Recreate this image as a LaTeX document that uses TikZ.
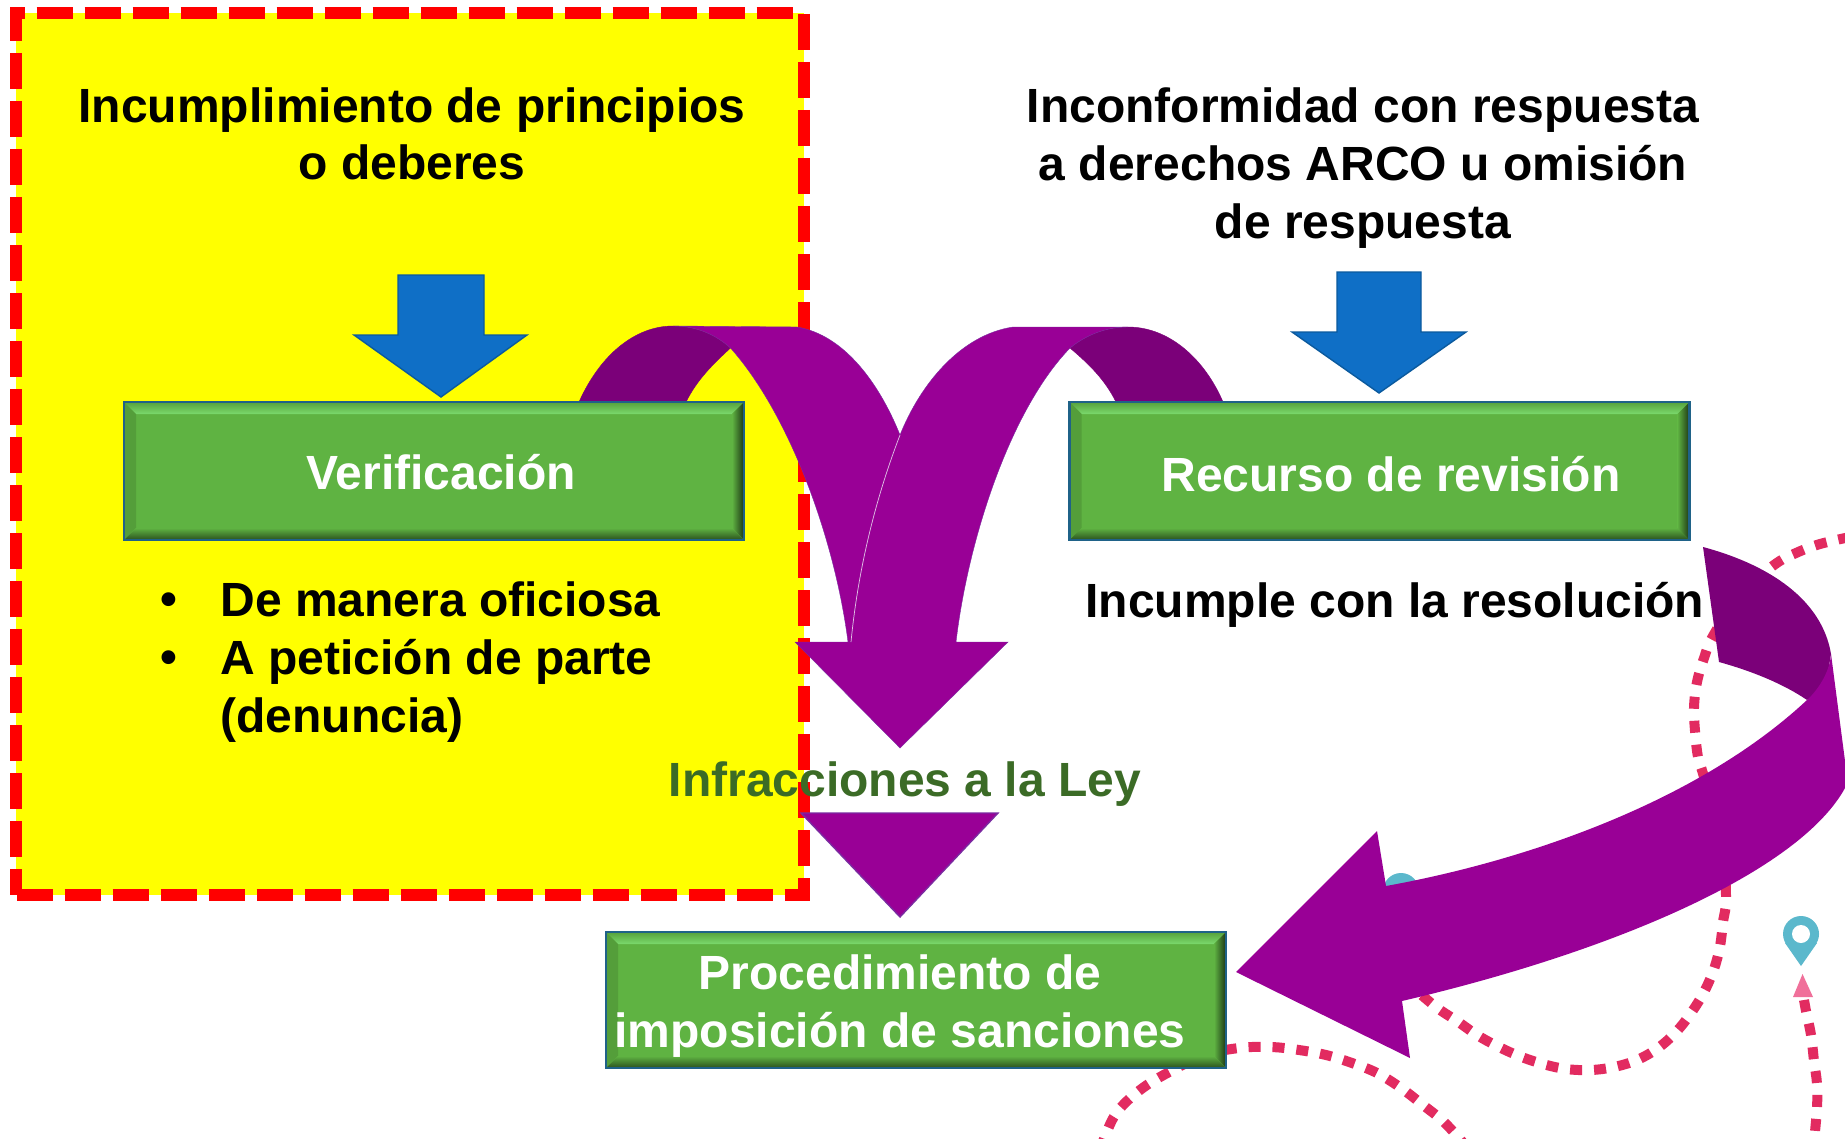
\documentclass[tikz,border=0pt]{standalone}
\usepackage{fontspec}
\setmainfont{Liberation Sans}
\definecolor{panelyellow}{HTML}{FFFF00}
\definecolor{panelred}{HTML}{FF0000}
\definecolor{purfront}{HTML}{990096}
\definecolor{purdark}{HTML}{7B0079}
\definecolor{purline}{HTML}{7A2BA0}
\definecolor{boxgreen}{HTML}{5FB342}
\definecolor{boxline}{HTML}{1F6288}
\definecolor{arrowblue}{HTML}{0F6FC6}
\definecolor{arrowline}{HTML}{0B5A9E}
\definecolor{lawgreen}{HTML}{3B6B26}
\definecolor{roadpink}{HTML}{E22B60}
\definecolor{pinteal}{HTML}{5BB8CC}
\definecolor{pinpink}{HTML}{F0709A}
\tikzset{
  bigtext/.style={font=\fontsize{24}{28.8}\selectfont\bfseries, align=center, inner sep=0pt},
  greenbox/.style={draw=boxline, line width=1.4pt, fill=boxgreen, inner sep=0pt, outer sep=0pt,
    text=white, font=\fontsize{24}{28.8}\selectfont\bfseries, align=center,
    path picture={
      \coordinate (bl) at (path picture bounding box.south west);
      \coordinate (tr) at (path picture bounding box.north east);
      \coordinate (tl) at (path picture bounding box.north west);
      \coordinate (br) at (path picture bounding box.south east);
      \fill[top color=boxgreen!90!black, bottom color=boxgreen!70!green!70!white]
        (tl) -- (tr) -- ([shift={(-6pt,-6pt)}]tr) -- ([shift={(6pt,-6pt)}]tl) -- cycle;
      \fill[color=boxgreen!88!black] (tl) -- ([shift={(6pt,-6pt)}]tl) -- ([shift={(6pt,6pt)}]bl) -- (bl) -- cycle;
      \fill[top color=boxgreen, bottom color=boxgreen!45!black] (bl) -- ([shift={(6pt,6pt)}]bl) -- ([shift={(-6pt,6pt)}]br) -- (br) -- cycle;
      \fill[left color=boxgreen, right color=boxgreen!30!black] (tr) -- ([shift={(-6pt,-6pt)}]tr) -- ([shift={(-6pt,6pt)}]br) -- (br) -- cycle;
    }},
  bluearrow/.style={fill=arrowblue, draw=arrowline, line width=0.7pt, line join=miter},
  frontarrow/.style={fill=purfront, draw=purline, line width=0.2pt},
  backarrow/.style={fill=purdark, draw=purdark, line width=0.2pt},
  roaddash/.style={draw=roadpink, line width=5pt, dash pattern=on 6pt off 6pt},
  redborder/.style={draw=panelred, line width=6pt}
}
\begin{document}
\begin{tikzpicture}[x=0.5pt,y=-0.5pt]
\clip (0,0) rectangle (1845,1139);
\fill[white] (0,0) rectangle (1845,1139);

% background road lines and pins
\draw[roaddash] plot[smooth,tension=0.6] coordinates {(1850,537) (1820,544) (1796,553) (1774,565) (1740,595) (1713,636) (1704,658) (1697,682) (1694,707) (1695,731) (1698,757) (1704,777) (1722,840) (1726,897) (1723,922) (1720,946) (1714,969) (1704,992) (1691,1013) (1676,1032) (1658,1048) (1637,1060) (1614,1067) (1591,1070) (1566,1069) (1543,1064) (1519,1056) (1497,1046) (1477,1035) (1457,1021) (1436,1007) (1410,985)};
\draw[roaddash] plot[smooth,tension=0.6] coordinates {(1100,1150) (1115,1115) (1140,1090) (1171,1071) (1205,1055) (1239,1048) (1271,1047) (1299,1050) (1326,1055) (1352,1063) (1377,1073) (1401,1088) (1423,1105) (1444,1122) (1465,1145)};
\draw[roaddash] plot[smooth,tension=0.6] coordinates {(1804,1000) (1806,1011) (1811,1035) (1814,1061) (1817,1084) (1817,1108) (1815,1132) (1814,1150)};
\fill[pinpink] (1802.5,974) -- (1813,997) -- (1793,997) -- cycle;
\fill[pinteal] (1801,934) circle[radius=18];
\fill[pinteal] (1801,966) -- (1785,943) -- (1817,943) -- cycle;
\fill[white] (1801,934) circle[radius=9];
\fill[pinteal] (1401,891) circle[radius=18];

% yellow panel with dashed red border
\fill[panelyellow] (16,13) rectangle (804,894.5);
\draw[redborder, dash pattern=on 18pt off 6pt, dash phase=10.75pt] (10,13) -- (804,13);
\draw[redborder, dash pattern=on 18pt off 6pt, dash phase=1pt] (16,7) -- (16,895);
\draw[redborder, dash pattern=on 18pt off 6pt] (16.5,894.5) -- (810,894.5);
\draw[redborder, dash pattern=on 18pt off 6pt] (804,14) -- (804,900);

% blue arrows
\draw[bluearrow] (398,275) -- (484,275) -- (484,335) -- (527,335) -- (441,397) -- (354,335) -- (398,335) -- cycle;
\draw[bluearrow] (1337,272) -- (1421,272) -- (1421,332) -- (1466,332) -- (1379,393) -- (1292,332) -- (1337,332) -- cycle;

% curved arrows between the boxes
\draw[backarrow] (579,402) .. controls (600,355) and (635,326) .. (673,326) .. controls (697,326) and (716,335) .. (730.5,348) .. controls (712,365) and (697,380) .. (686,402) -- cycle;
\draw[backarrow] (1223,402) .. controls (1205,360) and (1170,327) .. (1128,327) .. controls (1106,327) and (1086,335) .. (1070,348) .. controls (1090,365) and (1105,380) .. (1116,402) -- cycle;

\draw[frontarrow] (673,326) -- (797,327) .. controls (845,335) and (880,385) .. (900,435) .. controls (925,510) and (940,580) .. (950,642) -- (848,642) .. controls (835,540) and (790,415) .. (730.5,348) .. controls (716,335) and (697,326) .. (673,326) -- cycle;
\draw[frontarrow] (1128,327) -- (1013,327) .. controls (960,335) and (920,385) .. (900,435) .. controls (875,500) and (858,570) .. (851,642) -- (795,642) -- (900,748) -- (1008,642) -- (956,642) .. controls (968,540) and (1010,410) .. (1070,348) .. controls (1086,335) and (1106,327) .. (1128,327) -- cycle;
\draw[white!75!purfront, line width=0.35pt] (900,435) .. controls (875,500) and (858,570) .. (851,642);

% lower triangle
\draw[fill=purfront, draw=purline, line width=0.7pt] (801,813) -- (998,813) -- (900,917) -- cycle;

% long arrow at the right
\fill[purdark] (1703,547) .. controls (1770,565) and (1822,600) .. (1831,654) -- (1825,690) -- (1807,700) .. controls (1785,685) and (1755,672) .. (1719,662) -- cycle;
\fill[purfront] (1831,654) -- (1845,761) -- (1845,788) .. controls (1800,870) and (1620,950) .. (1402,1001) -- (1410,1058) -- (1236,972) -- (1377,831) -- (1386,886) .. controls (1530,860) and (1700,800) .. (1807,700) .. controls (1820,688) and (1830,670) .. (1831,654) -- cycle;

% boxes
\node[greenbox, minimum width=310pt, minimum height=69pt] (verif) at (434,471) {};
\node[greenbox, minimum width=310pt, minimum height=69pt] (recurso) at (1379.5,471) {};
\node[greenbox, minimum width=310pt, minimum height=68pt] (proced) at (916,1000) {};

% texts
\node[text=white, bigtext] (verift) at (441,472) {Verificación};
\node[text=white, bigtext] (recursot) at (1391,474) {Recurso de revisión};
\node[text=white, bigtext] (procedt) at (900,1006) {Procedimiento de\\imposición de sanciones};
\node[bigtext] (incump) at (412,134) {Incumplimiento de principios\\o deberes};
\node[bigtext] (inconf) at (1363,168) {Inconformidad con respuesta\\a derechos ARCO u omisión\\de respuesta};
\node[bigtext, align=left, anchor=west] (manera) at (220,662) {De manera oficiosa\\A petición de parte\\(denuncia)};
\node[bigtext, anchor=center] (bull1) at (169,604) {•};
\node[bigtext, anchor=center] (bull2) at (169,662) {•};
\node[bigtext, anchor=west] (resol) at (1085,605) {Incumple con la resolución};
\node[bigtext, text=lawgreen] (infra) at (905,784) {Infracciones a la Ley};
\end{tikzpicture}
\end{document}
